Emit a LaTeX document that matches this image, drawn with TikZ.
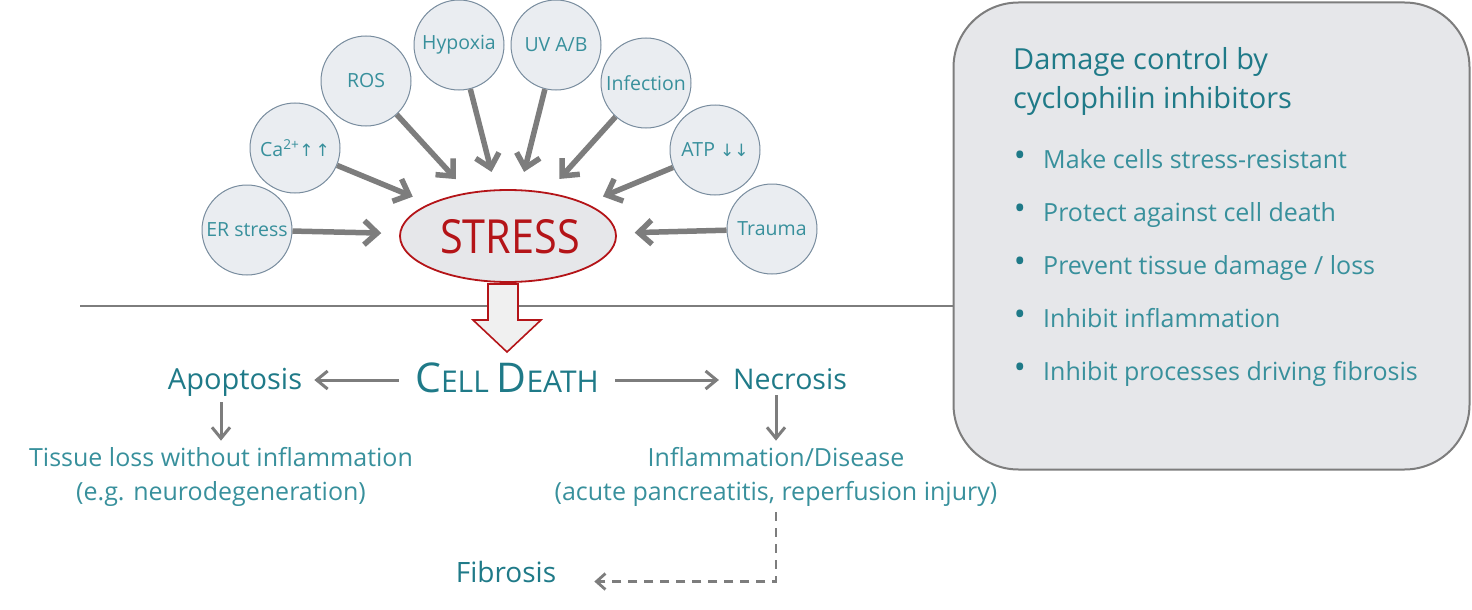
\documentclass[tikz,border=0pt]{standalone}
\usepackage{fontspec}
\setmainfont{Open Sans}
\newfontfamily\dejavu{DejaVu Sans}
\usetikzlibrary{arrows.meta,shapes.geometric}
\definecolor{teal1}{RGB}{31,122,136}
\definecolor{teal2}{RGB}{56,144,156}
\definecolor{circfill}{RGB}{234,237,241}
\definecolor{circline}{RGB}{120,140,158}
\definecolor{boxfill}{RGB}{230,231,234}
\definecolor{linegray}{RGB}{125,125,125}
\definecolor{darkred}{RGB}{180,20,24}
\newcommand{\fs}[1]{\fontsize{#1}{#1}\selectfont}
\tikzset{
  stressor/.style={circle, draw=circline, line width=1pt, fill=circfill, minimum size=90pt, inner sep=0pt, text=teal2, font=\fs{19.5}},
  bigarrow/.style={draw=linegray, line width=5.5pt, -{Straight Barb[length=13pt,width=24pt]}, shorten >=18pt},
  thinarrow/.style={draw=linegray, line width=3pt, -{Straight Barb[length=11pt,width=18pt]}},
  dasharrow/.style={draw=linegray, line width=2.8pt, dash pattern=on 9pt off 7pt, -{Straight Barb[length=9pt,width=16pt]}},
  lbl/.style={text=teal1, inner sep=0pt},
}
\begin{document}
\begin{tikzpicture}[x=1pt,y=-1pt]
\useasboundingbox (0,0) rectangle (1472,610);
% right box
\node[draw=linegray, line width=2pt, fill=boxfill, rounded corners=65pt, minimum width=516pt, minimum height=467pt, inner sep=0pt] (box) at (1211.5,236) {};
\node[lbl, anchor=base west, font=\fs{29}] (t1) at (1013,70) {Damage control by};
\node[lbl, anchor=base west, font=\fs{29}] (t2) at (1013,108) {cyclophilin inhibitors};
\foreach \i/\txt in {0/{Make cells stress-resistant}, 1/{Protect against cell death}, 2/{Prevent tissue damage / loss}, 3/{Inhibit inflammation}, 4/{Inhibit processes driving fibrosis}}{
  \node[lbl, text=teal2, anchor=base west, font=\fs{25}] (b\i) at (1043,168+53*\i) {\txt};
  \node[lbl, anchor=base, font=\fs{32}] (d\i) at (1020,166+53*\i) {\textbullet};
}
% horizontal line
\coordinate (lineL) at (80,306);
\draw[linegray, line width=2.5pt] (lineL) -- (lineL -| box.west);
% stress
\node[ellipse, draw=darkred, line width=1.8pt, fill=boxfill, minimum width=216pt, minimum height=92pt, inner sep=0pt] (stress) at (508,236) {};
\node[text=darkred, font=\fs{47}, anchor=base, inner sep=0pt] (stresst) at (510,253) {\scalebox{0.88}[1]{STRESS}};
% stressors
\node[stressor] (er) at (247,230) {ER stress};
\node[stressor] (ca) at (295,148) {Ca\textsuperscript{2+}{\dejavu\fs{17}↑\kern2pt↑}};
\node[stressor] (ros) at (366,81) {ROS};
\node[stressor] (hyp) at (459,45) {Hypoxia};
\node[stressor] (uv) at (556,45) {UV A/B};
\node[stressor] (inf) at (646,83) {Infection};
\node[stressor] (atp) at (715,150) {ATP {\dejavu\fs{17}↓↓}};
\node[stressor] (tr) at (772,229) {Trauma};
\foreach \n in {er,ca,ros,hyp,uv,inf,atp,tr}{
  \draw[bigarrow] (\n) -- (stress);
}
% block arrow
\draw[draw=darkred, line width=1.6pt, fill=black!6, line join=miter]
  (488,284) -- (518,284) -- (518,320) -- (541,320) -- (507,352) -- (473,320) -- (488,320) -- cycle;
% cell death
\node[lbl, anchor=base, font=\fs{30}] (cd) at (507,392) {{\fs{41}C}ELL {\fs{41}D}EATH};
\node[lbl, anchor=base, font=\fs{29}] (apo) at (235,389) {Apoptosis};
\node[lbl, anchor=base, font=\fs{28.5}] (nec) at (790,389) {Necrosis};
\coordinate (cdl) at ([yshift=12pt]cd.base);
\draw[thinarrow, shorten >=12pt, shorten <=16pt] (cd.west |- cdl) -- (apo.east |- cdl);
\draw[thinarrow, shorten >=14pt, shorten <=16pt] (cd.east |- cdl) -- (nec.west |- cdl);
% outcomes
\node[lbl, text=teal2, anchor=base, font=\fs{25}] (tis1) at (221,466) {Tissue loss without inflammation};
\node[lbl, text=teal2, anchor=base, font=\fs{25}] (tis2) at (221,500) {(e.g. neurodegeneration)};
\node[lbl, text=teal2, anchor=base, font=\fs{25}] (inf1) at (776,466) {Inflammation/Disease};
\node[lbl, text=teal2, anchor=base, font=\fs{25}] (inf2) at (776,500) {(acute pancreatitis, reperfusion injury)};
\node[lbl, anchor=base, font=\fs{28}] (fib) at (506,582) {Fibrosis};
\draw[thinarrow, shorten <=6pt, shorten >=6pt] (apo.south -| tis1) -- (tis1.north);
\draw[thinarrow, shorten <=6pt, shorten >=6pt] (nec.south -| inf1) -- (inf1.north);
\draw[dasharrow, shorten >=38pt] ([yshift=-6pt]inf2.south) |- ([yshift=-10pt]fib.east);
\end{tikzpicture}
\end{document}
